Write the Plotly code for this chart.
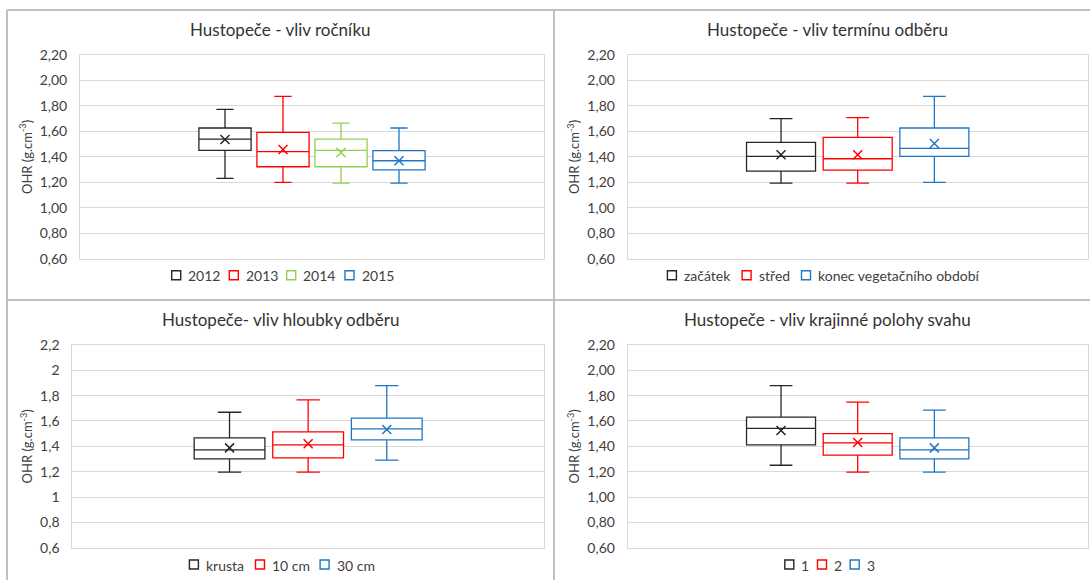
import plotly.graph_objects as go

# ---------------- data ----------------
# Panel 1: vliv ročníku
cat1 = ["2012", "2013", "2014", "2015"]
low1 = [1.232, 1.200, 1.195, 1.195]
q1_1 = [1.451, 1.323, 1.323, 1.299]
med1 = [1.540, 1.441, 1.451, 1.370]
q3_1 = [1.627, 1.593, 1.540, 1.449]
up1 = [1.773, 1.875, 1.666, 1.627]
mean1 = [1.537, 1.459, 1.435, 1.370]

# Panel 2: vliv termínu odběru
cat2 = ["začátek", "střed", "konec vegetačního období"]
low2 = [1.195, 1.195, 1.200]
q1_2 = [1.289, 1.297, 1.404]
med2 = [1.404, 1.386, 1.467]
q3_2 = [1.514, 1.553, 1.627]
up2 = [1.700, 1.708, 1.875]
mean2 = [1.417, 1.417, 1.506]

# Panel 3: vliv hloubky odběru
cat3 = ["krusta", "10 cm", "30 cm"]
low3 = [1.196, 1.196, 1.291]
q1_3 = [1.301, 1.309, 1.451]
med3 = [1.372, 1.412, 1.538]
q3_3 = [1.467, 1.514, 1.622]
up3 = [1.669, 1.766, 1.879]
mean3 = [1.388, 1.420, 1.533]

# Panel 4: vliv krajinné polohy svahu
cat4 = ["1", "2", "3"]
low4 = [1.251, 1.196, 1.196]
q1_4 = [1.412, 1.330, 1.301]
med4 = [1.541, 1.428, 1.372]
q3_4 = [1.630, 1.501, 1.467]
up4 = [1.879, 1.748, 1.685]
mean4 = [1.525, 1.430, 1.388]

titles = ["Hustopeče - vliv ročníku", "Hustopeče - vliv termínu odběru",
          "Hustopeče- vliv hloubky odběru", "Hustopeče - vliv krajinné polohy svahu"]

# ---------------- styling / layout ----------------
W = 1090
H = 600          # figure height (page is clipped to the window)
YOFF, YSC = 8, 0.972   # observed vertical placement of the page in the photo
FONT = "Lato, Carlito, Calibri, sans-serif"
BLACK = "#262626"
RED = "#FF0000"
GREEN = "#92D050"
BLUE = "#1F77C4"
colors4 = [BLACK, RED, GREEN, BLUE]
colors3 = [BLACK, RED, BLUE]


def py(v):
    """target pixel row -> paper y"""
    return 1 - ((v - YOFF) / YSC) / H


# plot areas in target pixels: (left, right, top, bottom)
areas = [
    (80, 544, 54, 258),
    (627.7, 1087.7, 54, 258),
    (72.3, 544, 344, 547),
    (627.7, 1087.7, 344, 547),
]
title_pos = [(280.5, 29), (827, 29), (280.3, 319), (827.2, 319)]
legend_y = [274.3, 274.3, 563.7, 563.7]
legend_icon_x = [
    [171.7, 229.3, 286.7, 345.0],
    [667.4, 742.1, 801.5],
    [189.4, 255.5, 320.1],
    [784.8, 817.5, 850.2],
]
tickfmt = [".2f", ".2f", None, ".2f"]

panels = [
    (cat1, low1, q1_1, med1, q3_1, up1, mean1, colors4),
    (cat2, low2, q1_2, med2, q3_2, up2, mean2, colors3),
    (cat3, low3, q1_3, med3, q3_3, up3, mean3, colors3),
    (cat4, low4, q1_4, med4, q3_4, up4, mean4, colors3),
]

GROUP = 0.5   # share of the category used by the group of boxes
GAP = 0.1     # gap between neighbouring boxes

fig = go.Figure()
layout = {}
annotations = []
shapes = []

for k, (cats, lo, q1, md, q3, up, mn, cols) in enumerate(panels):
    idx = "" if k == 0 else str(k + 1)
    xa, ya = "x" + idx, "y" + idx
    n = len(cats)
    step = GROUP / n
    for i in range(n):
        pos = -GROUP / 2 + (i + 0.5) * step
        fig.add_trace(go.Box(
            x=[pos], q1=[q1[i]], median=[md[i]], q3=[q3[i]],
            lowerfence=[lo[i]], upperfence=[up[i]],
            width=step * (1 - GAP), whiskerwidth=0.33,
            line=dict(color=cols[i], width=1.3), fillcolor="white",
            name=cats[i], xaxis=xa, yaxis=ya, showlegend=False,
            boxpoints=False,
        ))
        fig.add_trace(go.Scatter(
            x=[pos], y=[mn[i]], mode="markers", name=cats[i] + " (průměr)",
            marker=dict(symbol="x-thin", size=9,
                        line=dict(color=cols[i], width=1.5)),
            xaxis=xa, yaxis=ya, showlegend=False, hoverinfo="y",
        ))

    L, R, T, B = areas[k]
    layout["xaxis" + idx] = dict(
        domain=[L / W, R / W], anchor=ya, range=[-0.5, 0.5],
        showgrid=False, zeroline=False, showticklabels=False, ticks="",
        showline=True, linecolor="#D9D9D9", linewidth=1, mirror=True,
        fixedrange=True,
    )
    yax = dict(
        domain=[py(B), py(T)], anchor=xa,
        range=[0.6, 2.2], tick0=0.6, dtick=0.2,
        showgrid=True, gridcolor="#D9D9D9", gridwidth=1, zeroline=False,
        showline=True, linecolor="#D9D9D9", linewidth=1, mirror=True,
        ticks="", ticklabelstandoff=9,
        tickfont=dict(family=FONT, size=14, color="#404040"),
        title=dict(text="OHR (g.cm<sup>-3</sup>)", standoff=4,
                   font=dict(family=FONT, size=13, color="#404040")),
        fixedrange=True,
    )
    if tickfmt[k]:
        yax["tickformat"] = tickfmt[k]
    layout["yaxis" + idx] = yax

    # title
    tx, ty = title_pos[k]
    annotations.append(dict(
        text=titles[k], x=tx / W, y=py(ty), xref="paper", yref="paper",
        xanchor="center", yanchor="middle", showarrow=False,
        font=dict(family=FONT, size=17, color="#333333"),
    ))

    # legend (Excel style: small open squares followed by the label)
    ly = legend_y[k]
    for i in range(n):
        ix = legend_icon_x[k][i]
        shapes.append(dict(
            type="rect", xref="paper", yref="paper",
            x0=ix / W, x1=(ix + 9) / W, y0=py(ly + 4.5), y1=py(ly - 4.5),
            line=dict(color=cols[i], width=1.4), fillcolor="white",
        ))
        annotations.append(dict(
            text=cats[i], x=(ix + 14.5) / W, y=py(ly + 0.5),
            xref="paper", yref="paper", xanchor="left", yanchor="middle",
            showarrow=False, font=dict(family=FONT, size=14, color="#404040"),
        ))

border = dict(color="#BFBFBF", width=2)
shapes += [
    dict(type="line", xref="paper", yref="paper", x0=7 / W, x1=1, y0=py(9), y1=py(9), line=border),
    dict(type="line", xref="paper", yref="paper", x0=7 / W, x1=7 / W, y0=0, y1=py(9), line=border),
    dict(type="line", xref="paper", yref="paper", x0=554 / W, x1=554 / W, y0=0, y1=py(9), line=border),
    dict(type="line", xref="paper", yref="paper", x0=7 / W, x1=1, y0=py(299), y1=py(299), line=border),
]

fig.update_layout(
    width=W, height=H, autosize=False,
    margin=dict(l=0, r=0, t=0, b=0),
    paper_bgcolor="white", plot_bgcolor="white",
    separators=", ",
    boxmode="overlay",
    showlegend=False,
    font=dict(family=FONT, color="#404040"),
    annotations=annotations, shapes=shapes,
    **layout,
)

fig.write_html(
    "out.html",
    config={"displayModeBar": False},
    post_script="document.body.style.margin='0px';document.body.style.overflow='hidden';",
)
